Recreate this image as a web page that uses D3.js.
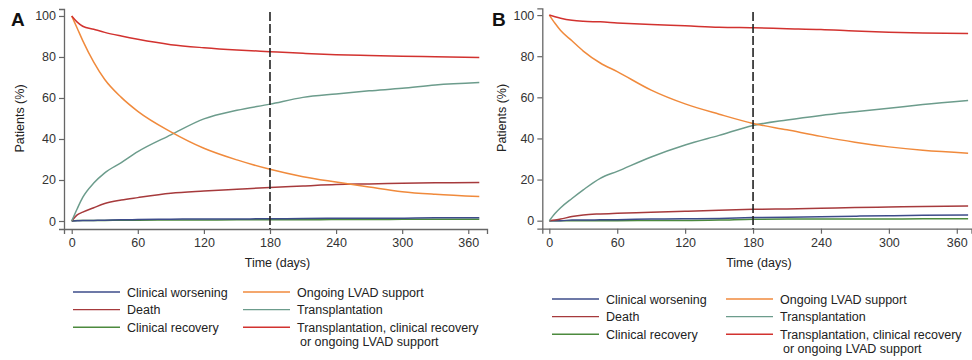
<!DOCTYPE html>
<html>
<head>
<meta charset="utf-8">
<script src="https://cdn.jsdelivr.net/npm/d3@7"></script>
<style>
  body { margin: 0; background: #fff; }
  svg { display: block; font-family: "Liberation Sans", Arial, sans-serif; }
</style>
</head>
<body>
<svg id="chart" width="972" height="360"></svg>
<script>
const days = [0, 5, 10, 20, 30, 45, 60, 90, 120, 150, 180, 210, 240, 270, 300, 330, 370];

const xTicks = [0, 60, 120, 180, 240, 300, 360];
const yTicks = [0, 20, 40, 60, 80, 100];
const landmarkDay = 180;

const seriesNames = [
  "Clinical worsening", "Death", "Clinical recovery",
  "Ongoing LVAD support", "Transplantation", "Transplantation, clinical recovery"
];
const seriesColors = ["#3d4c8a", "#a63a3c", "#4c8a3e", "#f08a3c", "#6c9c8c", "#d2322f"];

// Panel A
const worseningA = [0, 0.1, 0.2, 0.3, 0.4, 0.6, 0.7, 0.9, 1.0, 1.0, 1.1, 1.2, 1.3, 1.3, 1.4, 1.6, 1.6];
const deathA = [0, 3, 4.3, 6.5, 8.5, 10.2, 11.4, 13.5, 14.6, 15.5, 16.4, 17.1, 17.8, 18.1, 18.4, 18.6, 18.8];
const recoveryA = [0, 0.2, 0.3, 0.3, 0.3, 0.4, 0.4, 0.5, 0.5, 0.6, 0.6, 0.6, 0.7, 0.7, 0.8, 0.8, 0.8];
const ongoingA = [100, 94, 88, 77.5, 69, 60.3, 53.5, 43.5, 35.5, 29.8, 25.2, 21.6, 19, 16.6, 14.3, 13, 11.9];
const transplantA = [0, 6, 11.5, 18.5, 23.5, 28.5, 33.8, 42, 49.8, 54, 57, 60.3, 62, 63.5, 64.7, 66.3, 67.5];
const compositeA = [100, 97, 95, 93.5, 92, 90.2, 88.6, 86, 84.5, 83.4, 82.6, 81.8, 81.1, 80.7, 80.4, 80.1, 79.8];

// Panel B
const worseningB = [0, 0, 0, 0.3, 0.3, 0.4, 0.5, 0.8, 0.9, 1.1, 1.5, 1.7, 1.9, 2.2, 2.4, 2.6, 2.8];
const deathB = [0, 0.3, 0.8, 2, 2.8, 3.3, 3.6, 4.1, 4.6, 5.1, 5.5, 5.7, 6, 6.4, 6.6, 6.9, 7.1];
const recoveryB = [0, 0, 0, 0, 0, 0, 0, 0.1, 0.1, 0.3, 0.7, 0.8, 0.8, 0.8, 0.8, 0.9, 0.9];
const ongoingB = [100, 96, 92.5, 87.5, 82.5, 76.7, 72.5, 63.5, 56.8, 51.8, 47.3, 44.2, 41, 38.2, 35.9, 34.2, 32.8];
const transplantB = [0, 3.5, 6.3, 10.8, 15, 20.6, 24, 31, 36.8, 41.5, 46.3, 49, 51.2, 53, 54.7, 56.5, 58.5];
const compositeB = [100, 99.2, 98.5, 97.5, 97, 96.7, 96.2, 95.4, 94.8, 94.1, 93.8, 93.4, 93, 92.2, 91.6, 91.3, 91];

const panels = [
  { label: "A", series: [worseningA, deathA, recoveryA, ongoingA, transplantA, compositeA],
    xDomain: [-7, 377], xRange: [64, 487], yDomain: [-3.9, 103.4], yRange: [229, 9],
    labelX: 11, yTitleX: 20, legendX: 73, legendY: 292, legendCol2: 170 },
  { label: "B", series: [worseningB, deathB, recoveryB, ongoingB, transplantB, compositeB],
    xDomain: [-6.2, 373], xRange: [542.3, 971.5], yDomain: [-3.9, 103.3], yRange: [228.7, 8.3],
    labelX: 492, yTitleX: 502, legendX: 552, legendY: 299, legendCol2: 174 }
];

const svg = d3.select("#chart");
const drawOrder = [2, 0, 1, 4, 3, 5];

panels.forEach(p => {
  const x = d3.scaleLinear().domain(p.xDomain).range(p.xRange);
  const y = d3.scaleLinear().domain(p.yDomain).range(p.yRange);
  const g = svg.append("g");

  const xAxis = g.append("g")
    .attr("transform", `translate(0,${p.yRange[0]})`)
    .call(d3.axisBottom(x).tickValues(xTicks).tickSizeOuter(0).tickSize(5).tickPadding(4));
  const yAxis = g.append("g")
    .attr("transform", `translate(${p.xRange[0]},0)`)
    .call(d3.axisLeft(y).tickValues(yTicks).tickSizeOuter(0).tickSize(5).tickPadding(3));
  [xAxis, yAxis].forEach(a => {
    a.select(".domain").attr("stroke", "#666").attr("stroke-width", 1.3);
    a.selectAll(".tick line").attr("stroke", "#666").attr("stroke-width", 1.2);
    a.selectAll(".tick text").attr("fill", "#333").style("font-size", "12.5px")
      .style("font-family", "'Liberation Sans', Arial, sans-serif");
  });

  const line = d3.line()
    .x((d, i) => x(days[i]))
    .y(d => y(d))
    .curve(d3.curveMonotoneX);

  drawOrder.forEach(k => {
    g.append("path")
      .datum(p.series[k])
      .attr("fill", "none")
      .attr("stroke", seriesColors[k])
      .attr("stroke-width", 1.5)
      .attr("d", line);
  });

  g.append("line")
    .attr("x1", x(landmarkDay)).attr("x2", x(landmarkDay))
    .attr("y1", 12).attr("y2", p.yRange[0])
    .attr("stroke", "#222").attr("stroke-width", 1.6)
    .attr("stroke-dasharray", "9,3");

  g.append("text")
    .attr("x", p.labelX).attr("y", 26)
    .attr("font-size", 19).attr("font-weight", "bold").attr("fill", "#111")
    .text(p.label);

  g.append("text")
    .attr("x", (p.xRange[0] + p.xRange[1]) / 2 + 2)
    .attr("y", 267)
    .attr("text-anchor", "middle").attr("font-size", 12.5).attr("fill", "#222")
    .text("Time (days)");

  g.append("text")
    .attr("transform", `translate(${p.yTitleX},${y(50)}) rotate(-90)`)
    .attr("dy", "0.35em")
    .attr("text-anchor", "middle").attr("font-size", 12.5).attr("fill", "#222")
    .text("Patients (%)");

  // legend, 2 columns x 3 rows
  const rowStep = 17.6;
  seriesNames.forEach((name, k) => {
    const col = Math.floor(k / 3), row = k % 3;
    const lx = p.legendX + col * p.legendCol2;
    const ly = p.legendY + row * rowStep;
    g.append("line")
      .attr("x1", lx).attr("x2", lx + 47)
      .attr("y1", ly).attr("y2", ly)
      .attr("stroke", seriesColors[k]).attr("stroke-width", 1.4);
    g.append("text")
      .attr("x", lx + 54).attr("y", ly + 4.5)
      .attr("font-size", 12.5).attr("fill", "#222")
      .text(name);
    if (k === 5) {
      g.append("text")
        .attr("x", lx + 57).attr("y", ly + 4.5 + 14)
        .attr("font-size", 12.5).attr("fill", "#222")
        .text("or ongoing LVAD support");
    }
  });
});
</script>
</body>
</html>
